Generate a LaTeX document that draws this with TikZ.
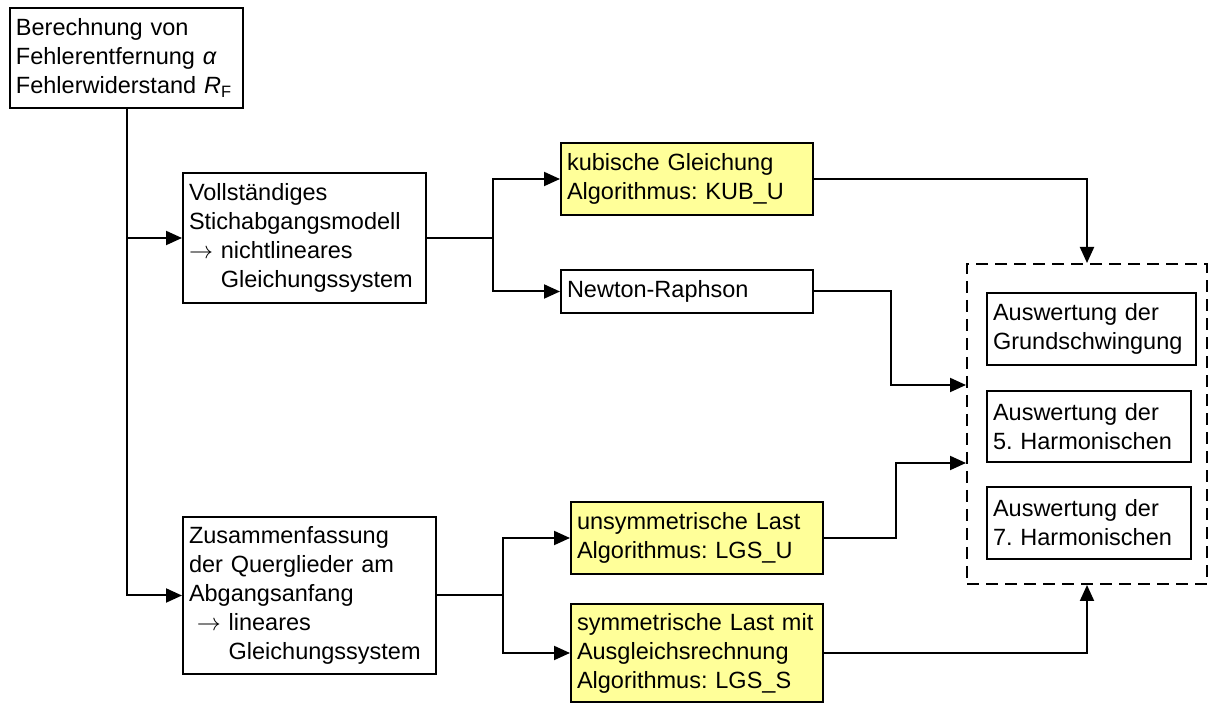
\documentclass[tikz,border=0pt]{standalone}
\usepackage{fontspec}
\setmainfont{Liberation Sans}
\usetikzlibrary{arrows.meta}
\definecolor{gelb}{RGB}{255,255,153}
\frenchspacing
\begin{document}
\begin{tikzpicture}[x=0.5pt,y=-0.5pt,
    kasten/.style={draw, line width=1pt, align=left, inner xsep=3pt, inner ysep=2pt,
                   font=\fontsize{11.75}{14.5}\selectfont},
    algo/.style={kasten, fill=gelb},
    linie/.style={line width=1pt},
    pfeil/.style={linie, -{Triangle[length=8pt,width=7pt]}}]
                \useasboundingbox (0,0) rectangle (1210,704);
                % the boxes
                \node[kasten, text width=110.5pt, minimum height=50pt] (calc) at (126.5,58)
                     {Berechnung von\\Fehlerentfernung \textit{α}\\Fehlerwiderstand \textit{R}\textsubscript{F}};
                \node[kasten, text width=115.5pt, minimum height=65pt] (voll) at (304.5,238)
                     {Vollständiges\\Stichabgangsmodell\\$\rightarrow$ nichtlineares\\\hphantom{$\rightarrow$ }Gleichungssystem};
                \node[kasten, text width=120.5pt, minimum height=78.5pt] (zus) at (309.5,595.5)
                     {Zusammenfassung\\der Querglieder am\\Abgangsanfang\\\ $\rightarrow$ lineares\\\hphantom{\ $\rightarrow$ }Gleichungssystem};
                \node[algo, text width=120pt, minimum height=36pt] (kub) at (687,179)
                     {kubische Gleichung\\Algorithmus: KUB\_U};
                \node[kasten, text width=120pt, minimum height=21.5pt] (newton) at (687,291.5)
                     {Newton-Raphson};
                \node[algo, text width=120pt, minimum height=36pt] (lgsu) at (697,538)
                     {unsymmetrische Last\\Algorithmus: LGS\_U};
                \node[algo, text width=120pt, minimum height=49pt] (lgss) at (697,653)
                     {symmetrische Last mit\\Ausgleichsrechnung\\Algorithmus: LGS\_S};
                % evaluation group
                \node[draw, line width=1pt, dash pattern=on 6pt off 3.5pt,
                      minimum width=120pt, minimum height=160pt] (aus) at (1087,424) {};
                \node[kasten, text width=98.5pt, minimum height=36pt] (grund) at (1091.5,329)
                     {Auswertung der\\Grundschwingung};
                \node[kasten, text width=96pt, minimum height=35.5pt] (harm5) at (1089,426.5)
                     {Auswertung der\\5. Harmonischen};
                \node[kasten, text width=96pt, minimum height=36pt] (harm7) at (1089,523)
                     {Auswertung der\\7. Harmonischen};
                \coordinate (gabel1) at (493,238);
                \coordinate (gabel2) at (503,595.5);
                \coordinate (ein1) at (aus.west |- 0,385);
                \coordinate (ein2) at (aus.west |- 0,463);

                % connectors
                \draw [pfeil] (calc.south) |- (voll.west);
                \draw [pfeil] (calc.south) |- (zus.west);
                \draw [linie] (voll.east) -- (gabel1);
                \draw [pfeil] (gabel1) |- (kub.west);
                \draw [pfeil] (gabel1) |- (newton.west);
                \draw [linie] (zus.east) -- (gabel2);
                \draw [pfeil] (gabel2) |- (lgsu.west);
                \draw [pfeil] (gabel2) |- (lgss.west);
                \draw [pfeil] (kub.east) -| (aus.north);
                \draw [pfeil] (newton.east) -- ++(77,0) |- (ein1);
                \draw [pfeil] (lgsu.east) -- ++(72,0) |- (ein2);
                \draw [pfeil] (lgss.east) -| (aus.south);
              \end{tikzpicture}
\end{document}
